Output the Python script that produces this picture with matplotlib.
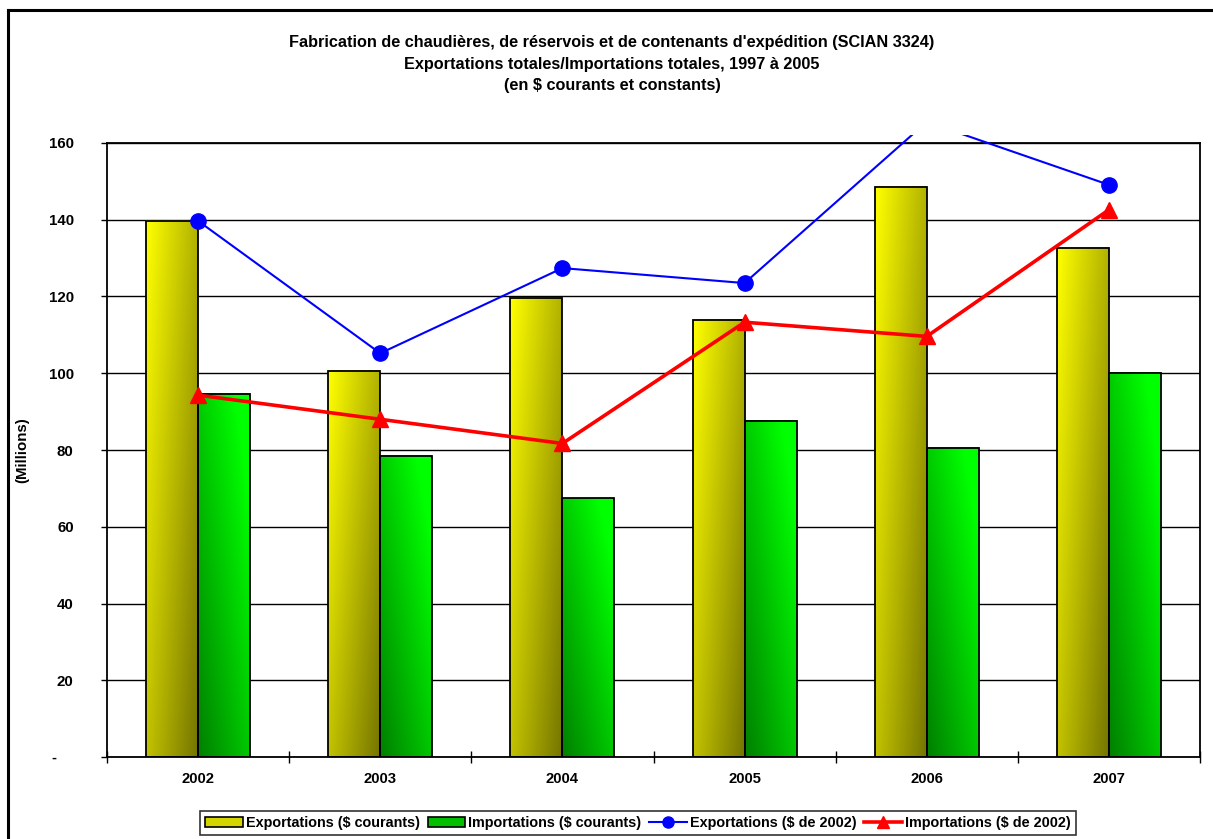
import numpy as np
import matplotlib
matplotlib.use("Agg")
import matplotlib.pyplot as plt
from matplotlib.patches import Rectangle
from matplotlib.lines import Line2D
from matplotlib.transforms import Bbox, TransformedBbox

plt.rcParams["font.family"] = ["Liberation Sans", "DejaVu Sans"]
plt.rcParams["font.weight"] = "bold"

# Data (millions $)
years = ["2002", "2003", "2004", "2005", "2006", "2007"]
exp_courants = [139.7, 100.7, 119.6, 113.9, 148.6, 132.7]
imp_courants = [94.6, 78.5, 67.4, 87.6, 80.6, 100.1]
exp_2002 = [139.7, 105.2, 127.4, 123.5, 165.5, 149.1]
imp_2002 = [94.3, 88.0, 81.7, 113.3, 109.6, 142.6]

title = ("Fabrication de chaudières, de réservois et de contenants d'expédition (SCIAN 3324)\n"
         "Exportations totales/Importations totales, 1997 à 2005\n"
         "(en $ courants et constants)")
labels = ["Exportations ($ courants)", "Importations ($ courants)",
          "Exportations ($ de 2002)", "Importations ($ de 2002)"]


def gradient(kind):
    u = np.linspace(0, 1, 40)[None, :]
    v = np.linspace(0, 1, 80)[:, None]
    if kind == "yellow":
        f = np.clip(1.0 - 0.30 * u - 0.24 * v, 0, 1)
        img = np.dstack([f, f, np.zeros_like(f)])
    else:
        g = np.clip(0.80 + 0.28 * u - 0.30 * v, 0, 1)
        img = np.dstack([np.zeros_like(g), g, np.zeros_like(g)])
    return img


def grad_bar(ax, x0, w, h, kind):
    ax.imshow(gradient(kind), extent=(x0, x0 + w, 0, h), origin="upper",
              aspect="auto", interpolation="bilinear", zorder=2)
    ax.add_patch(Rectangle((x0, 0), w, h, fill=False, ec="black", lw=1.3, zorder=3))


fig = plt.figure(figsize=(12.13, 8.39), dpi=100)
ax = fig.add_axes([107 / 1213, 1 - 757 / 839, 1093 / 1213, 614 / 839])

x = np.arange(len(years))
bw = 0.285
for i in range(len(years)):
    grad_bar(ax, x[i] - bw, bw, exp_courants[i], "yellow")
    grad_bar(ax, x[i], bw, imp_courants[i], "green")

# lines may run a little past the top of the plot area, as in the original
clip = TransformedBbox(Bbox([[0, 0], [1, 1.013]]), ax.transAxes)
l1, = ax.plot(x, exp_2002, color="#0000ff", lw=1.5, marker="o", ms=11, zorder=5)
l2, = ax.plot(x, imp_2002, color="#ff0000", lw=2.6, marker="^", ms=11, zorder=6)
for ln in (l1, l2):
    ln.set_clip_box(clip)

ax.set_xlim(-0.5, 5.5)
ax.set_ylim(0, 160)
ax.set_yticks(np.arange(0, 161, 20))
ax.set_yticklabels(["-    "] + [str(v) for v in range(20, 161, 20)])
ax.yaxis.grid(True, color="black", lw=1.0, zorder=1)
ax.set_axisbelow(True)
ax.tick_params(axis="y", direction="out", length=4, width=1, pad=20, labelsize=10.8)

ax.set_xticks(np.arange(-0.5, 6, 1))
ax.set_xticklabels([])
ax.set_xticks(x, minor=True)
ax.set_xticklabels(years, minor=True)
ax.tick_params(axis="x", which="major", direction="inout", length=9, width=1)
ax.tick_params(axis="x", which="minor", length=0, pad=11, labelsize=10.6)

for sp in ax.spines.values():
    sp.set_color("black")
    sp.set_linewidth(1.3)

fig.text(612 / 1213, 1 - 64 / 839, title, ha="center", va="center",
         fontsize=11.7, fontweight="bold", linespacing=1.55)
fig.text(22 / 1213, 1 - 450 / 839, "(Millions)", rotation=90, ha="center",
         va="center", fontsize=10.8, fontweight="bold")

# outer chart border (left and top edges visible)
fig.add_artist(Line2D([8 / 1213, 8 / 1213], [0, 1 - 10 / 839], color="black", lw=2.2))
fig.add_artist(Line2D([8 / 1213, 1], [1 - 10 / 839, 1 - 10 / 839], color="black", lw=2.2))

handles = [Rectangle((0, 0), 1, 1, fc="#d4d400", ec="black", lw=1.2),
           Rectangle((0, 0), 1, 1, fc="#00c000", ec="black", lw=1.2),
           Line2D([], [], color="#0000ff", lw=1.5, marker="o", ms=8),
           Line2D([], [], color="#ff0000", lw=2.6, marker="^", ms=9)]
leg = fig.legend(handles, labels, loc="center", bbox_to_anchor=(638 / 1213, 1 - 823 / 839),
                 ncol=4, fontsize=10.4, frameon=True, fancybox=False, handlelength=2.6,
                 handletextpad=0.2, columnspacing=0.55, borderpad=0.35, borderaxespad=0)
leg.get_frame().set_edgecolor("black")
leg.get_frame().set_linewidth(1.2)
for t in leg.get_texts():
    t.set_fontweight("bold")

fig.savefig("out.png", dpi=100)
